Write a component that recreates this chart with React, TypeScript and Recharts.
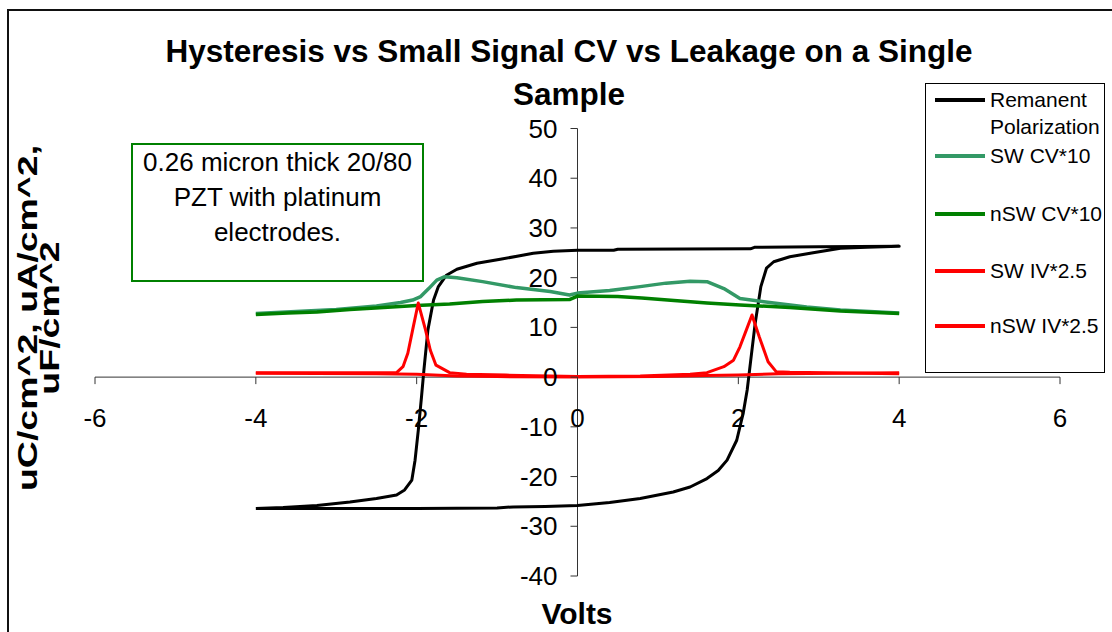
import { LineChart, Line, XAxis, YAxis, ReferenceLine } from "recharts";

// axis scales (Volts, uC/cm^2 ...)
const X_MIN = -6;
const X_MAX = 6;
const Y_MIN = -40;
const Y_MAX = 50;
const xTicks = [-6, -4, -2, 0, 2, 4, 6];
const yTicks = [-40, -30, -20, -10, 0, 10, 20, 30, 40, 50];

// [volts, value]
const remanent: [number, number][] = [
  [-4.0, -26.4], [-3.0, -26.4], [-2.0, -26.4], [-1.0, -26.3], [-0.8, -26.1], [-0.4, -26.0],
  [0.0, -25.8], [0.4, -25.2], [0.78, -24.4], [1.19, -23.1], [1.4, -22.1], [1.61, -20.4],
  [1.75, -18.8], [1.86, -16.7], [1.98, -12.7], [2.06, -7.3], [2.11, -2.6], [2.15, 2.8],
  [2.21, 10.9], [2.28, 18.2], [2.35, 21.9], [2.44, 23.2], [2.64, 24.2], [2.93, 25.0],
  [3.27, 25.9], [3.6, 26.1], [4.0, 26.3],
  [3.0, 26.2], [2.2, 26.1], [2.15, 25.8], [0.5, 25.7], [0.45, 25.5], [0.0, 25.5],
  [-0.3, 25.3], [-0.55, 24.9], [-0.96, 23.7], [-1.25, 22.9], [-1.5, 21.7], [-1.63, 20.5],
  [-1.73, 18.2], [-1.79, 15.5], [-1.86, 9.5], [-1.91, 1.4], [-1.94, -4.0], [-1.98, -10.7],
  [-2.02, -16.7], [-2.06, -20.7], [-2.15, -22.7], [-2.25, -23.7], [-2.5, -24.4],
  [-2.83, -25.1], [-3.24, -25.8], [-3.66, -26.2], [-4.0, -26.4],
];

const swCV: [number, number][] = [
  [-4.0, 12.8], [-3.5, 13.2], [-3.0, 13.6], [-2.5, 14.3], [-2.2, 15.0], [-2.05, 15.5],
  [-1.95, 16.2], [-1.85, 17.8], [-1.75, 19.5], [-1.65, 20.2], [-1.5, 20.0], [-1.18, 19.2],
  [-0.76, 18.0], [-0.34, 17.2], [-0.1, 16.5], [0.0, 16.9], [0.4, 17.4], [0.78, 18.2],
  [1.1, 18.9], [1.4, 19.3], [1.61, 19.2], [1.82, 17.8], [2.02, 15.8], [2.44, 14.9],
  [2.85, 14.1], [3.27, 13.5], [4.0, 12.9],
];

const nswCV: [number, number][] = [
  [-4.0, 12.6], [-3.6, 12.9], [-3.24, 13.1], [-2.83, 13.6], [-2.41, 14.0], [-2.0, 14.4],
  [-1.59, 14.7], [-1.18, 15.2], [-0.76, 15.5], [-0.1, 15.6], [0.0, 16.3], [0.5, 16.2],
  [0.8, 15.9], [1.2, 15.4], [1.61, 14.9], [2.02, 14.5], [2.64, 14.0], [3.27, 13.3], [4.0, 12.8],
];

const swIV: [number, number][] = [
  [-4.0, 0.9], [-3.0, 0.9], [-2.25, 0.9], [-2.17, 2.1], [-2.11, 4.8], [-2.05, 9.5],
  [-1.98, 14.9], [-1.89, 9.5], [-1.83, 5.4], [-1.76, 2.4], [-1.59, 0.9], [-1.38, 0.6],
  [-0.89, 0.4], [0.0, 0.1], [0.78, 0.2], [1.4, 0.6], [1.61, 0.9], [1.82, 2.1], [1.94, 3.4],
  [2.02, 6.1], [2.1, 9.5], [2.17, 12.5], [2.26, 8.1], [2.37, 3.1], [2.47, 1.1], [2.64, 1.0],
  [4.0, 0.7],
];

const nswIV: [number, number][] = [
  [-4.0, 0.8], [-2.5, 0.7], [-2.0, 0.6], [-1.5, 0.2], [-1.0, 0.1], [0.0, 0.0],
  [1.0, 0.1], [1.6, 0.3], [2.0, 0.4], [2.5, 0.7], [4.0, 0.9],
];

const toRows = (pts: [number, number][]) => pts.map(([v, y]) => ({ v, y }));

const series = [
  { name: "Remanent Polarization", pts: remanent, color: "#000000", width: 3 },
  { name: "SW CV*10", pts: swCV, color: "#339966", width: 3.5 },
  { name: "nSW CV*10", pts: nswCV, color: "#008000", width: 3.5 },
  { name: "SW IV*2.5", pts: swIV, color: "#ff0000", width: 3 },
  { name: "nSW IV*2.5", pts: nswIV, color: "#ff0000", width: 3 },
];

const W = 1112;
const H = 632;
const PLOT_LEFT = 95;
const PLOT_TOP = 128.5;
const PLOT_W = 965;
const PLOT_H = 447.5;
const X_AXIS_H = 30;
const Y_AXIS_W = 60;
// axes cross at zero, so ticks are shifted from the plot edge to the zero line
const ZERO_FROM_BOTTOM = (PLOT_H * (0 - Y_MIN)) / (Y_MAX - Y_MIN);
const ZERO_FROM_LEFT = (PLOT_W * (0 - X_MIN)) / (X_MAX - X_MIN);
const AXIS_COLOR = "#333";
const FONT = "'Liberation Sans', Arial, sans-serif";

const XTick = (props: any) => {
  const { x, y, payload } = props;
  const zy = y - ZERO_FROM_BOTTOM;
  return (
    <g>
      <line x1={x} x2={x} y1={zy} y2={zy + 7} stroke={AXIS_COLOR} strokeWidth={1} />
      <text x={x} y={zy + 50} textAnchor="middle" fontSize={26} fill="#000" fontFamily={FONT}>
        {payload.value}
      </text>
    </g>
  );
};

const YTick = (props: any) => {
  const { x, y, payload } = props;
  const zx = x + ZERO_FROM_LEFT;
  return (
    <g>
      <line x1={zx - 7} x2={zx} y1={y} y2={y} stroke={AXIS_COLOR} strokeWidth={1} />
      <text x={zx - 20} y={y + 9} textAnchor="end" fontSize={26} fill="#000" fontFamily={FONT}>
        {payload.value}
      </text>
    </g>
  );
};

export default function App() {
  return (
    <div style={{ position: "relative", width: W, height: H, overflow: "hidden", background: "#fff", fontFamily: FONT }}>
      <style>{"body{margin:0;overflow:hidden}"}</style>
      {/* chart area border, runs off the right and bottom edges */}
      <div
        style={{
          position: "absolute",
          left: 7,
          top: 9,
          width: 1200,
          height: 800,
          borderLeft: "2px solid #111",
          borderTop: "2px solid #111",
        }}
      />
      <div
        style={{
          position: "absolute",
          left: 0,
          top: 30,
          width: 1138,
          textAlign: "center",
          fontWeight: 700,
          fontSize: 31.5,
          lineHeight: "43px",
          color: "#000",
        }}
      >
        Hysteresis vs Small Signal CV vs Leakage on a Single
        <br />
        Sample
      </div>
      <div style={{ position: "absolute", left: 0, top: 0 }}>
        <LineChart
          width={W}
          height={H}
          margin={{
            top: PLOT_TOP,
            left: PLOT_LEFT - Y_AXIS_W,
            right: W - PLOT_LEFT - PLOT_W,
            bottom: H - PLOT_TOP - PLOT_H - X_AXIS_H,
          }}
        >
          <XAxis
            type="number"
            dataKey="v"
            domain={[X_MIN, X_MAX]}
            ticks={xTicks}
            allowDataOverflow
            axisLine={false}
            tickLine={false}
            tickSize={0}
            tickMargin={0}
            height={X_AXIS_H}
            tick={<XTick />}
          />
          <YAxis
            type="number"
            dataKey="y"
            domain={[Y_MIN, Y_MAX]}
            ticks={yTicks}
            allowDataOverflow
            axisLine={false}
            tickLine={false}
            tickSize={0}
            tickMargin={0}
            width={Y_AXIS_W}
            tick={<YTick />}
          />
          <ReferenceLine y={0} stroke={AXIS_COLOR} strokeWidth={1} />
          <ReferenceLine x={0} stroke={AXIS_COLOR} strokeWidth={1} />
          {series.map((s) => (
            <Line
              key={s.name}
              data={toRows(s.pts)}
              dataKey="y"
              name={s.name}
              type="linear"
              stroke={s.color}
              strokeWidth={s.width}
              strokeLinejoin="round"
              dot={false}
              activeDot={false}
              isAnimationActive={false}
            />
          ))}
        </LineChart>
      </div>
      {/* text box */}
      <div
        style={{
          position: "absolute",
          left: 131,
          top: 143,
          width: 293,
          height: 139,
          boxSizing: "border-box",
          border: "2px solid #008000",
          textAlign: "center",
          fontSize: 26,
          lineHeight: "35px",
          color: "#000",
          background: "#fff",
        }}
      >
        0.26 micron thick 20/80
        <br />
        PZT with platinum
        <br />
        electrodes.
      </div>
      {/* y axis title, stretched along its length like the original */}
      <div
        style={{
          position: "absolute",
          left: 41 - 220,
          top: 318 - 24,
          width: 440,
          height: 48,
          transform: "rotate(-90deg) scaleX(1.34)",
          textAlign: "center",
          fontWeight: 700,
          fontSize: 28,
          lineHeight: "22px",
          color: "#000",
        }}
      >
        uC/cm^2, uA/cm^2,
        <br />
        uF/cm^2
      </div>
      {/* x axis title */}
      <div
        style={{
          position: "absolute",
          left: 477,
          top: 597,
          width: 200,
          textAlign: "center",
          fontWeight: 700,
          fontSize: 30,
          lineHeight: "34px",
          color: "#000",
        }}
      >
        Volts
      </div>
      {/* legend */}
      <div
        style={{
          position: "absolute",
          left: 925,
          top: 83,
          width: 180,
          height: 290,
          boxSizing: "border-box",
          border: "1.5px solid #000",
          background: "#fff",
          fontSize: 21,
          color: "#000",
        }}
      >
        {series.map((s, i) => {
          const rowTop = i === 0 ? 2 : [0, 58, 116, 173, 228][i];
          return (
            <div key={s.name} style={{ position: "absolute", left: 0, top: rowTop, width: 178 }}>
              <div
                style={{
                  position: "absolute",
                  left: 9,
                  top: 12,
                  width: 50,
                  height: 4,
                  background: s.color,
                }}
              />
              <div style={{ position: "absolute", left: 64, top: 0, width: 114, lineHeight: "27px" }}>
                {s.name}
              </div>
            </div>
          );
        })}
      </div>
    </div>
  );
}
